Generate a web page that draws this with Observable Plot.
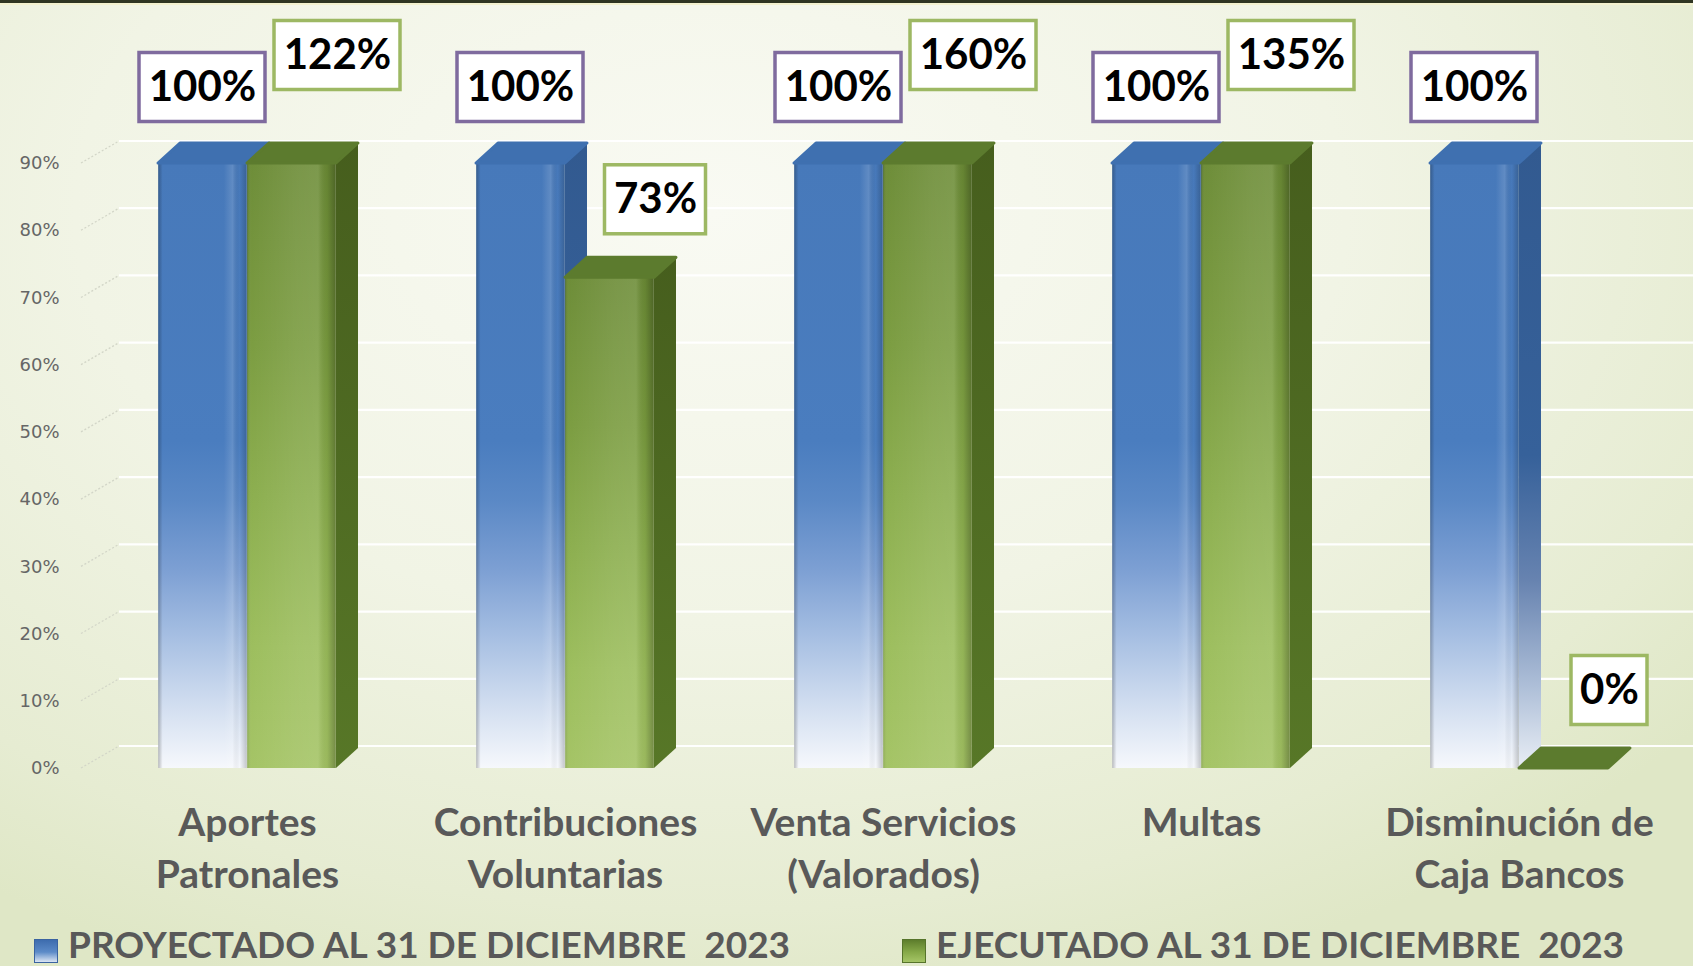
<!DOCTYPE html>
<html>
<head>
<meta charset="utf-8">
<script src="https://cdn.jsdelivr.net/npm/d3@7"></script>
<script src="https://cdn.jsdelivr.net/npm/@observablehq/plot@0.6"></script>
<style>
  html, body { margin: 0; padding: 0; }
  body { width: 1693px; height: 966px; overflow: hidden; }
  #wrap {
    position: relative; width: 1693px; height: 966px; overflow: hidden;
    background:
      radial-gradient(ellipse 75% 85% at 42% 22%, #f9faf3 0%, #f1f4e5 50%, #e6ecd2 85%, #dfe7c6 100%);
  }
  #topline { position: absolute; left: 0; top: 0; width: 1693px; height: 3px; background: #2f3522; }
  #topline2 { position: absolute; left: 0; top: 3px; width: 1693px; height: 2px; background: #f3f1cf; }
  #chart { position: absolute; left: 0; top: 0; }
  #chart svg { display: block; overflow: visible; }
  .leg { position: absolute; top: 922px; height: 44px; display: flex; align-items: flex-start;
         font-family: Lato, "Open Sans", sans-serif; font-weight: 700; font-size: 37px; line-height: 1.18;
         color: #595959; white-space: pre; }
  .sw { width: 24px; height: 24px; margin-top: 17px; margin-right: 10px; box-sizing: border-box; flex: none; }
</style>
</head>
<body>
<div id="wrap">
  <div id="chart"></div>
  <div id="topline"></div>
  <div id="topline2"></div>
  <div id="legend"></div>
</div>
<script>
// ---------- data ----------
const categories = [
  "Aportes\nPatronales",
  "Contribuciones\nVoluntarias",
  "Venta Servicios\n(Valorados)",
  "Multas",
  "Disminución de\nCaja Bancos"
];
const seriesNames = [
  "PROYECTADO AL 31 DE DICIEMBRE  2023",
  "EJECUTADO AL 31 DE DICIEMBRE  2023"
];
const proyectado = [1.00, 1.00, 1.00, 1.00, 1.00];
const ejecutado  = [1.22, 0.73, 1.60, 1.35, 0.00];
const yTicks = [0, 0.1, 0.2, 0.3, 0.4, 0.5, 0.6, 0.7, 0.8, 0.9];
const yMax = 0.9;

// ---------- layout ----------
const W = 1693, H = 905;
const ML = 87, MR = 14, MT = 163, MB = 137;
const BAR = 89;          // front face width
const D = 22, E = 20;    // 3D depth (px right, px up)
const WALL_DX = 38, WALL_DY = 22;
const HALF = (W - ML - MR) / categories.length / 2;

const fmt = v => Math.round(v * 100) + "%";
const rowsP = categories.map((cat, i) => ({cat, value: proyectado[i], label: fmt(proyectado[i])}));
const rowsE = categories.map((cat, i) => ({cat, value: ejecutado[i], label: fmt(ejecutado[i])}));

function bw(x) { return typeof x.bandwidth === "function" ? x.bandwidth() : x.bandwidth; }
function center(scales, cat) { return scales.x(cat) + bw(scales.x) / 2; }

// gradients
function defsMark() {
  const defs = d3.create("svg:defs");
  const lin = (id, horizontal, stops) => {
    const g = defs.append("linearGradient").attr("id", id)
      .attr("x1", 0).attr("y1", 0).attr("x2", horizontal ? 1 : 0).attr("y2", horizontal ? 0 : 1);
    for (const [o, c, a] of stops) g.append("stop").attr("offset", o).attr("stop-color", c).attr("stop-opacity", a ?? 1);
  };
  lin("blueFront", false, [[0, "#4779ba"], [0.46, "#4a7dbf"], [0.56, "#5b89c6"], [0.67, "#7c9fd3"], [0.78, "#a5bee2"], [0.89, "#cfdcef"], [1, "#f6f8fc"]]);
  lin("blueSide", false, [[0, "#325a90"], [0.5, "#36619a"], [0.7, "#6783b0"], [0.87, "#aebfd8"], [1, "#e9eef5"]]);
  lin("greenFront", false, [[0, "#6b8b35"], [0.3, "#799b3e"], [0.55, "#8aad4c"], [0.8, "#9bbd5b"], [1, "#a3c363"]]);
  lin("greenSide", false, [[0, "#465e1d"], [1, "#577727"]]);
  lin("shadeB", true, [[0, "#000", 0.25], [0.05, "#000", 0], [0.74, "#fff", 0.0], [0.84, "#fff", 0.14], [0.92, "#000", 0.0], [1, "#000", 0.2]]);
  lin("shadeG", true, [[0, "#000", 0.12], [0.05, "#fff", 0.02], [0.55, "#fff", 0.1], [0.8, "#fff", 0.12], [0.9, "#000", 0.05], [1, "#000", 0.28]]);
  return defs.node();
}

// back wall gridlines with 3D leader lines
function gridMark(index, scales) {
  const g = d3.create("svg:g");
  for (const t of yTicks) {
    const y = scales.y(t);
    g.append("line").attr("x1", ML - 6).attr("y1", y).attr("x2", ML - 6 + WALL_DX).attr("y2", y - WALL_DY)
      .attr("stroke", "#d3d6c8").attr("stroke-width", 1.3).attr("stroke-dasharray", "2,2");
    g.append("line").attr("x1", ML - 6 + WALL_DX).attr("y1", y - WALL_DY).attr("x2", W).attr("y2", y - WALL_DY)
      .attr("stroke", "#ffffff").attr("stroke-width", 2.2).attr("stroke-opacity", 0.95);
  }
  return g.node();
}

// side face + top cap of the 3D bars
function bar3D(rows, offset, sideFill, capFill) {
  return (index, scales) => {
    const g = d3.create("svg:g");
    for (const r of rows) {
      const c = center(scales, r.cat);
      const x1 = c + offset, x2 = x1 + BAR;
      const y0 = scales.y(0), y1 = scales.y(r.value);
      if (y0 - y1 > 0.5) {
        g.append("path").attr("d", `M${x2},${y1}L${x2 + D},${y1 - E}L${x2 + D},${y0 - E}L${x2},${y0}Z`)
          .attr("fill", sideFill);
      }
      g.append("path").attr("d", `M${x1},${y1}L${x1 + D},${y1 - E}L${x2 + D},${y1 - E}L${x2},${y1}Z`)
        .attr("fill", capFill).attr("stroke", capFill).attr("stroke-width", 3).attr("stroke-linejoin", "round");
    }
    return g.node();
  };
}

// label geometry
const LBL_P_DX = -45, LBL_P_DY = -76;
const LBL_E_DX = 90, LBL_E_DY_CLIP = -108, LBL_E_DY = -78;
const boxW = s => 26 + 25 * s.length, BOX_H = 69;

function boxMark(rows, dx, dyFn, stroke) {
  return (index, scales) => {
    const g = d3.create("svg:g");
    for (const r of rows) {
      const cx = center(scales, r.cat) + dx;
      const cy = scales.y(r.value) + dyFn(r);
      const w = boxW(r.label);
      g.append("rect").attr("x", cx - w / 2).attr("y", cy - BOX_H / 2).attr("width", w).attr("height", BOX_H)
        .attr("fill", "#ffffff").attr("stroke", stroke).attr("stroke-width", 3.5);
    }
    return g.node();
  };
}
const dyE = r => r.value > yMax ? LBL_E_DY_CLIP : LBL_E_DY;

const textOpts = {x: "cat", y: "value", text: "label", fontSize: 42, fontWeight: "bold",
  fontFamily: "Lato, 'Open Sans', sans-serif", fill: "#000"};

const chart = Plot.plot({
  width: W, height: H,
  marginLeft: ML, marginRight: MR, marginTop: MT, marginBottom: MB,
  style: {background: "transparent", color: "#595959", overflow: "visible"},
  x: {type: "band", domain: categories, padding: 0, label: null},
  y: {domain: [0, yMax], clamp: true, label: null},
  marks: [
    defsMark,
    gridMark,
    Plot.axisY({ticks: yTicks, tickFormat: d => Math.round(d * 100) + "%", tickSize: 0, tickPadding: 28,
      fontSize: 18, fontFamily: "'DejaVu Sans', sans-serif", fill: "#666666", label: null}),
    Plot.axisX({tickSize: 0, tickPadding: 31, fontSize: 39, fontWeight: "bold",
      fontFamily: "Lato, 'Open Sans', sans-serif", fill: "#595959", lineHeight: 1.33, label: null}),
    // projected bars
    Plot.barY(rowsP, {x: "cat", y1: 0, y2: "value", fill: "url(#blueFront)", insetLeft: HALF - BAR, insetRight: HALF}),
    Plot.barY(rowsP, {x: "cat", y1: 0, y2: "value", fill: "url(#shadeB)", insetLeft: HALF - BAR, insetRight: HALF}),
    bar3D(rowsP, -BAR, "url(#blueSide)", "#3f70b0"),
    // executed bars
    Plot.barY(rowsE, {x: "cat", y1: 0, y2: "value", fill: "url(#greenFront)", insetLeft: HALF, insetRight: HALF - BAR}),
    Plot.barY(rowsE, {x: "cat", y1: 0, y2: "value", fill: "url(#shadeG)", insetLeft: HALF, insetRight: HALF - BAR}),
    bar3D(rowsE, 0, "url(#greenSide)", "#5c7b2e"),
    // value labels
    boxMark(rowsP, LBL_P_DX, () => LBL_P_DY, "#7f6b9e"),
    boxMark(rowsE, LBL_E_DX, dyE, "#9db863"),
    Plot.text(rowsP, {...textOpts, dx: LBL_P_DX, dy: LBL_P_DY}),
    Plot.text(rowsE.filter(r => r.value > yMax), {...textOpts, dx: LBL_E_DX, dy: LBL_E_DY_CLIP}),
    Plot.text(rowsE.filter(r => r.value <= yMax), {...textOpts, dx: LBL_E_DX, dy: LBL_E_DY})
  ]
});
document.getElementById("chart").appendChild(chart);

// legend
const legend = document.getElementById("legend");
const swatches = [
  "linear-gradient(180deg, #3d6cae 0%, #5c8bc8 55%, #dbe5f3 100%)",
  "linear-gradient(180deg, #5d7d2c 0%, #86a948 55%, #a5c566 100%)"
];
const legLeft = [34, 902];
seriesNames.forEach((name, i) => {
  const item = document.createElement("div");
  item.className = "leg";
  item.style.left = legLeft[i] + "px";
  const sw = document.createElement("div");
  sw.className = "sw";
  sw.style.background = swatches[i];
  sw.style.border = "1px solid " + (i ? "#56742a" : "#3a63a0");
  const tx = document.createElement("span");
  tx.textContent = name;
  item.appendChild(sw);
  item.appendChild(tx);
  legend.appendChild(item);
});
</script>
</body>
</html>
